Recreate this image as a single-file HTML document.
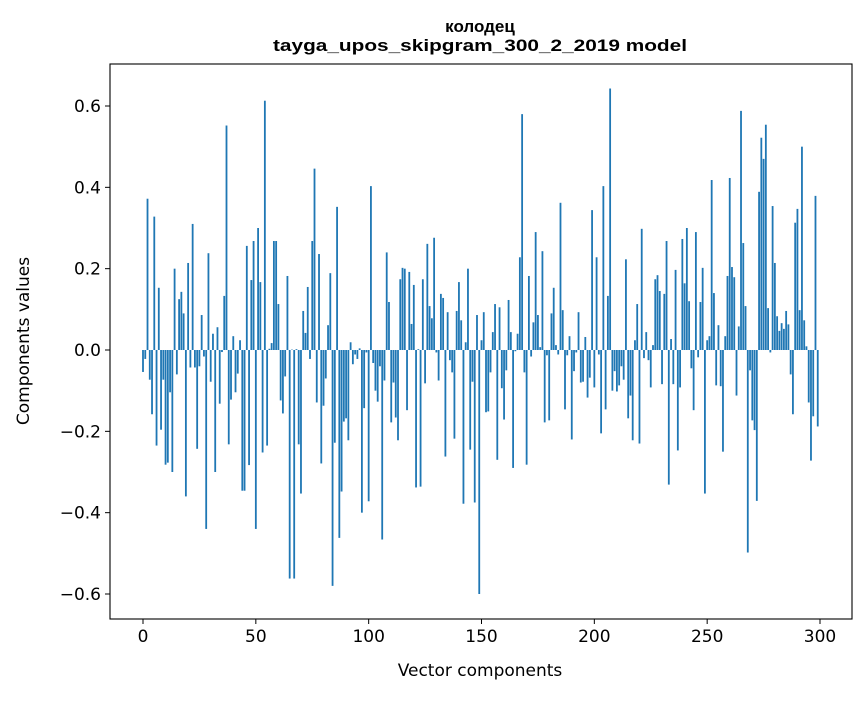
<!DOCTYPE html>
<html><head><meta charset="utf-8"><style>
body{margin:0;background:#fff;}
svg text{font-family:"DejaVu Sans","Liberation Sans",sans-serif;fill:#000;}
</style></head><body>
<svg id="chart" width="867" height="696" xmlns="http://www.w3.org/2000/svg">
<rect width="867" height="696" fill="#fff"/>
<text x="480" y="32" text-anchor="middle" style="font-family:'Liberation Sans',sans-serif;font-weight:bold;font-size:17px">колодец</text>
<text x="480" y="51" text-anchor="middle" textLength="414" lengthAdjust="spacingAndGlyphs" style="font-family:'Liberation Sans',sans-serif;font-weight:bold;font-size:17px">tayga_upos_skipgram_300_2_2019 model</text>
<g id="bars"></g>
<g id="axes"></g>
<text x="480" y="676" text-anchor="middle" font-size="17">Vector components</text>
<text x="0" y="0" text-anchor="middle" font-size="17" transform="translate(29,341) rotate(-90)">Components values</text>
</svg>
<script>
const values = [-0.054,-0.022,0.372,-0.073,-0.158,0.328,-0.235,0.153,-0.196,-0.073,
-0.282,-0.277,-0.104,-0.3,0.2,-0.06,0.125,0.143,0.09,-0.36,
0.214,-0.043,0.31,-0.043,-0.243,-0.04,0.086,-0.016,-0.44,0.238,
-0.078,0.04,-0.3,0.056,-0.132,-0.005,0.133,0.552,-0.232,-0.122,
0.034,-0.104,-0.058,0.024,-0.346,-0.346,0.256,-0.283,0.172,0.268,
-0.44,0.3,0.167,-0.252,0.613,-0.235,0.003,0.017,0.268,0.268,
0.113,-0.124,-0.156,-0.065,0.182,-0.562,0.001,-0.562,0.002,-0.232,
-0.353,0.096,0.042,0.155,-0.022,0.268,0.446,-0.129,0.236,-0.279,
-0.137,-0.07,0.061,0.189,-0.58,-0.228,0.352,-0.462,-0.348,-0.176,
-0.168,-0.222,0.019,-0.035,-0.011,-0.022,0.004,-0.4,-0.143,-0.006,
-0.372,0.403,-0.032,-0.1,-0.127,-0.04,-0.466,-0.075,0.24,0.118,
-0.178,-0.08,-0.166,-0.222,0.174,0.202,0.2,-0.148,0.192,0.064,
0.16,-0.338,0.002,-0.336,0.174,-0.082,0.261,0.108,0.078,0.276,
-0.006,-0.075,0.138,0.128,-0.262,0.093,-0.025,-0.055,-0.218,0.096,
0.167,0.073,-0.378,0.019,0.2,-0.245,-0.078,-0.375,0.086,-0.6,
0.024,0.093,-0.153,-0.151,-0.055,0.044,0.113,-0.27,0.105,-0.094,
-0.171,-0.05,0.123,0.044,-0.29,-0.003,0.04,0.228,0.58,-0.055,
-0.282,0.182,-0.016,0.068,0.29,0.086,0.007,0.243,-0.178,-0.013,
-0.173,0.09,0.153,0.012,-0.011,0.362,0.098,-0.146,-0.013,0.034,
-0.22,-0.052,-0.006,0.093,-0.08,-0.078,0.032,-0.117,-0.068,0.344,
-0.092,0.228,-0.011,-0.205,0.403,-0.146,0.133,0.643,-0.1,-0.052,
-0.102,-0.087,-0.04,-0.073,0.223,-0.168,-0.112,-0.222,0.024,0.113,
-0.23,0.298,-0.02,0.044,-0.025,-0.092,0.012,0.174,0.184,0.145,
-0.084,0.138,0.268,-0.331,0.027,-0.084,0.197,-0.247,-0.092,0.273,
0.164,0.3,0.12,-0.045,-0.148,0.29,-0.018,0.118,0.202,-0.353,
0.024,0.034,0.418,0.14,-0.087,0.061,-0.089,-0.25,0.034,0.182,
0.423,0.204,0.179,-0.112,0.058,0.588,0.263,0.108,-0.498,-0.05,
-0.173,-0.197,-0.371,0.389,0.522,0.47,0.554,0.103,-0.006,0.354,
0.214,0.083,0.047,0.066,0.052,0.096,0.063,-0.06,-0.158,0.313,
0.347,0.098,0.5,0.073,0.009,-0.129,-0.272,-0.163,0.379,-0.188];
const yTicks = [-0.6,-0.4,-0.2,0.0,0.2,0.4,0.6];
const xTicks = [0,50,100,150,200,250,300];

const NS="http://www.w3.org/2000/svg";
const L=110,R=852,T=64,B=619;
const xs = i => 143 + i*(820-143)/300;
const ys = v => 350 - v*(594-350)/0.6;
const bars=document.getElementById('bars');
values.forEach((v,i)=>{
  const r=document.createElementNS(NS,'rect');
  const w=0.8*(820-143)/300;
  r.setAttribute('x',xs(i)-w/2);
  r.setAttribute('width',w);
  r.setAttribute('y',Math.min(ys(v),ys(0)));
  r.setAttribute('height',Math.max(Math.abs(ys(v)-ys(0)),0.01));
  r.setAttribute('fill','#1f77b4');
  
  
  bars.appendChild(r);
});
const ax=document.getElementById('axes');
function el(tag,attrs,txt){const e=document.createElementNS(NS,tag);for(const k in attrs)e.setAttribute(k,attrs[k]);if(txt!==undefined)e.textContent=txt;ax.appendChild(e);return e;}
const frame=el('rect',{x:L,y:T,width:R-L,height:B-T,fill:'none',stroke:'#000','stroke-width':1.1});


yTicks.forEach(t=>{
  const y=ys(t);
  const tk=el('line',{x1:L-5,x2:L,y1:y,y2:y,stroke:'#000','stroke-width':1});
  
  
  const lb=el('text',{x:L-9,y:y+6,'text-anchor':'end','font-size':17},(t<0?'\u2212':'')+Math.abs(t).toFixed(1));
  
  
});
xTicks.forEach(t=>{
  const x=xs(t);
  const tk=el('line',{x1:x,x2:x,y1:B,y2:B+5,stroke:'#000','stroke-width':1});
  
  
  const lb=el('text',{x:x,y:B+23,'text-anchor':'middle','font-size':17},String(t));
  
  
});
</script>
</body></html>
